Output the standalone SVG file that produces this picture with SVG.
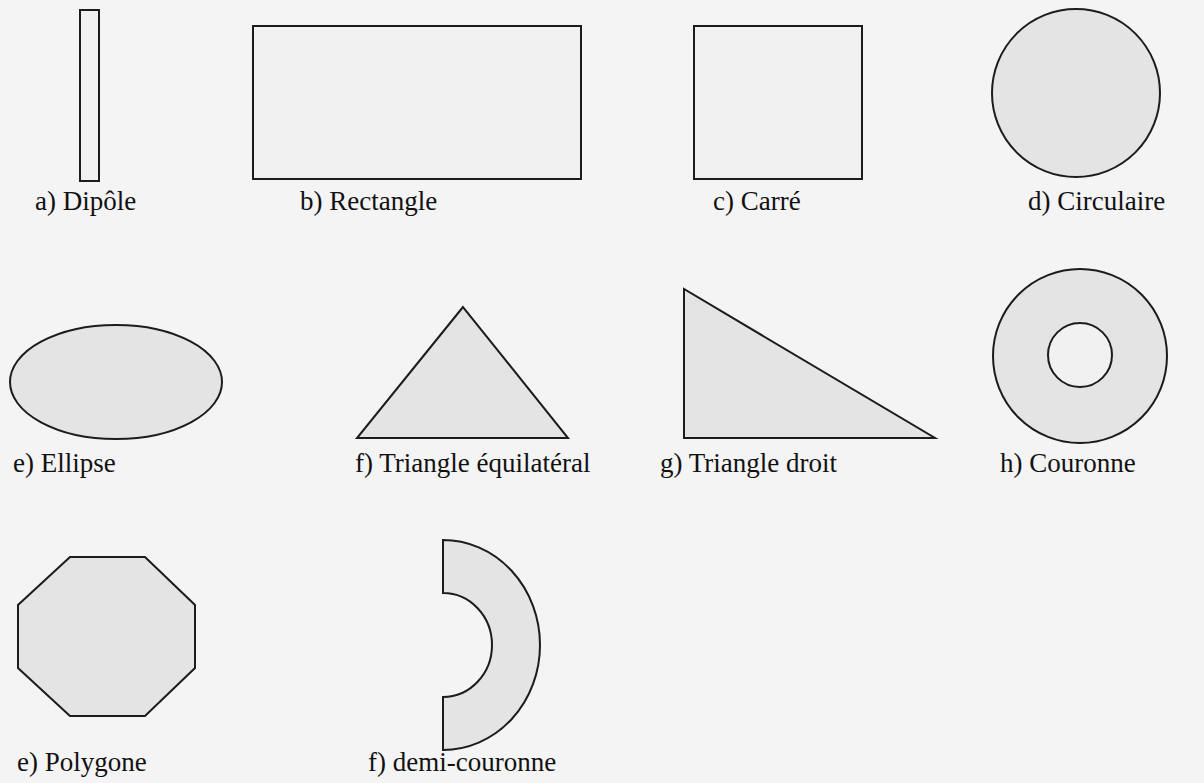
<svg xmlns="http://www.w3.org/2000/svg" width="1204" height="783" viewBox="0 0 1204 783">
<style>
.s{stroke:#1c1c1c;stroke-width:2;stroke-linejoin:miter}
.g{fill:#e4e4e4}
.w{fill:#f1f1f1}
.t{font-family:"Liberation Serif","Times New Roman",serif;font-size:27px;fill:#111111}
</style>
<rect x="0" y="0" width="1204" height="783" fill="#f4f4f4"/>
<g id="dipole">
<rect class="s w" x="80" y="10" width="19" height="171"/>
<text class="t" x="35" y="210">a) Dipôle</text>
</g>
<g id="rectangle">
<rect class="s w" x="253" y="26" width="328" height="153"/>
<text class="t" x="300" y="210">b) Rectangle</text>
</g>
<g id="carre">
<rect class="s w" x="694" y="26" width="168" height="153"/>
<text class="t" x="713" y="210">c) Carré</text>
</g>
<g id="circulaire">
<circle class="s g" cx="1076" cy="93" r="84"/>
<text class="t" x="1028" y="210">d) Circulaire</text>
</g>
<g id="ellipse">
<ellipse class="s g" cx="116" cy="382" rx="106" ry="57"/>
<text class="t" x="13" y="472">e) Ellipse</text>
</g>
<g id="triangle-equilateral">
<polygon class="s g" points="463,307 357,438 568,438"/>
<text class="t" x="355" y="472">f) Triangle équilatéral</text>
</g>
<g id="triangle-droit">
<polygon class="s g" points="684,289 684,438 935,438"/>
<text class="t" x="660" y="472">g) Triangle droit</text>
</g>
<g id="couronne">
<circle class="s g" cx="1080" cy="356" r="87"/>
<circle class="s w" cx="1080" cy="355" r="32"/>
<text class="t" x="1000" y="472">h) Couronne</text>
</g>
<g id="polygone">
<polygon class="s g" points="70,557 145,557 195,605 195,668 145,716 70,716 18,668 18,605"/>
<text class="t" x="17" y="771">e) Polygone</text>
</g>
<g id="demi-couronne">
<path class="s g" d="M443,540 A97,105 0 0 1 443,750 L443,697 A49,52 0 0 0 443,593 Z"/>
<text class="t" x="368" y="771">f) demi-couronne</text>
</g>
<g id="connectors"/>
</svg>
